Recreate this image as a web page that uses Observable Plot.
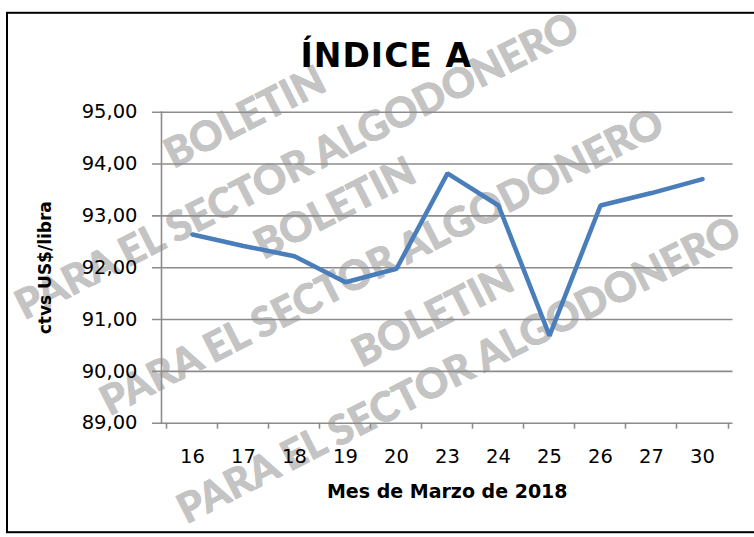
<!DOCTYPE html>
<html>
<head>
<meta charset="utf-8">
<script src="https://cdn.jsdelivr.net/npm/d3@7"></script>
<script src="https://cdn.jsdelivr.net/npm/@observablehq/plot@0.6"></script>
<style>
  html, body { margin: 0; padding: 0; background: #fff; }
  g[aria-description="chart-title"] text { letter-spacing: 1px; }
</style>
</head>
<body>
<div id="chart"></div>
<script>
// ---- data ----
const title = "ÍNDICE A";
const yLabel = "ctvs US$/libra";
const xLabel = "Mes de Marzo de 2018";
const days = ["16", "17", "18", "19", "20", "23", "24", "25", "26", "27", "30"];
const values = [92.64, 92.42, 92.22, 91.72, 91.98, 93.82, 93.20, 90.69, 93.20, 93.44, 93.71];
const yTicks = [89, 90, 91, 92, 93, 94, 95];
const watermarkWord = "BOLETIN";
const watermarkLine = "PARA EL SECTOR ALGODONERO";

const rows = days.map((d, i) => ({day: d, value: values[i]}));
const fmt = v => d3.format(".2f")(v).replace(".", ",");
const font = "DejaVu Sans";
const grid = "#8c8c8c";

function wm(text, dx, dy) {
  return Plot.text([text], {
    frameAnchor: "middle", textAnchor: "middle", lineAnchor: "middle", dx, dy, rotate: -27,
    fontSize: 41, fontWeight: 900, fontFamily: "Lato",
    fill: "#c4c4c4", stroke: "#acacac", strokeWidth: 0.6
  });
}

const chart = Plot.plot({
  width: 754,
  height: 537,
  marginLeft: 161,
  marginRight: 21.5,
  marginTop: 111.7,
  marginBottom: 114.3,
  style: {fontFamily: font, background: "#fff", color: "#000"},
  x: {type: "point", domain: days, padding: 0.5, align: 0.5},
  y: {domain: [89, 95]},
  marks: [
    // outer chart border
    Plot.frame({stroke: "#000", strokeWidth: 2, insetLeft: -154.5, insetTop: -99.4, insetRight: -40, insetBottom: -109}),
    // watermark
    wm(watermarkWord, -202, -150),
    wm(watermarkLine, -150, -101),
    wm(watermarkWord, -112, -59),
    wm(watermarkLine, -65, -5),
    wm(watermarkWord, -14, 49),
    wm(watermarkLine, 12, 103),
    // gridlines
    Plot.ruleY(yTicks, {stroke: grid, strokeWidth: 1.6, insetLeft: -9}),
    // y axis line
    Plot.frame({anchor: "left", stroke: grid, strokeWidth: 1.6}),
    // x tick marks at category boundaries
    Plot.axisX({tickSize: 6, tickFormat: () => "", dx: -26, label: null, color: grid, strokeWidth: 1.6}),
    Plot.axisX([days[days.length - 1]], {tickSize: 6, tickFormat: () => "", dx: 26, label: null, color: grid, strokeWidth: 1.6}),
    // tick labels
    Plot.axisX({tickSize: 0, tickPadding: 26, fontSize: 19.5, label: null, color: "#000"}),
    Plot.axisY(yTicks, {tickSize: 0, tickPadding: 24, fontSize: 19.5, tickFormat: fmt, label: null, color: "#000"}),
    // axis titles
    Plot.text([xLabel], {frameAnchor: "bottom", textAnchor: "middle", lineAnchor: "middle", dy: 68.5, fontSize: 19, fontWeight: "bold", fontFamily: font, fill: "#000"}),
    Plot.text([yLabel], {frameAnchor: "left", textAnchor: "middle", lineAnchor: "middle", dx: -116.4, rotate: -90, fontSize: 17, fontWeight: "bold", fontFamily: font, fill: "#000"}),
    // the series
    Plot.line(rows, {x: "day", y: "value", stroke: "#4a7ebb", strokeWidth: 4.5, strokeLinejoin: "miter", strokeLinecap: "round"}),
    // chart title
    Plot.text([title], {frameAnchor: "top", textAnchor: "middle", lineAnchor: "middle", dx: -61, dy: -56, fontSize: 33, fontWeight: "bold", fontFamily: font, fill: "#000", ariaDescription: "chart-title"})
  ]
});
document.getElementById("chart").append(chart);
</script>
</body>
</html>
